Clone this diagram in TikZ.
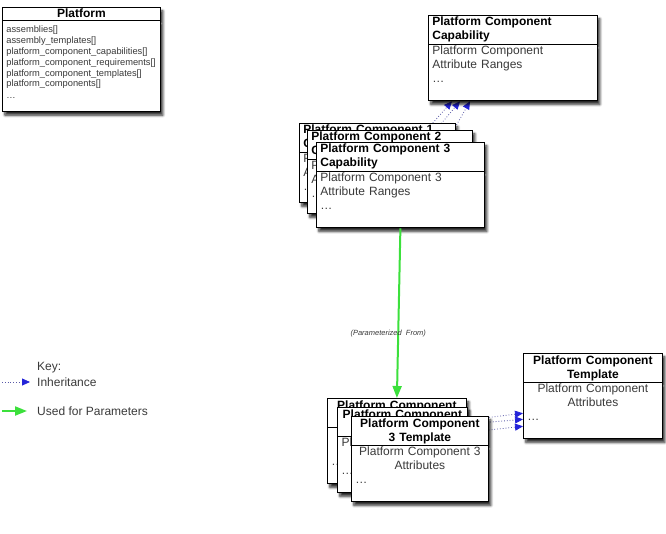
\documentclass[tikz,border=0pt]{standalone}
\usepackage{fontspec}
\setmainfont{Liberation Sans}
\usetikzlibrary{shapes.multipart, arrows.meta, positioning, backgrounds, shadows.blur}
\definecolor{inhblue}{HTML}{2424D8}
\definecolor{inhline}{HTML}{5A5AA8}
\definecolor{paramgreen}{HTML}{3CE03C}
\definecolor{bodygray}{HTML}{3A3A3A}

\newcommand{\pad}[1]{\rule[-#1]{0pt}{#1}}

\begin{document}
\begin{tikzpicture}[
    x=1pt, y=-1pt,
    classbox/.style={rectangle split, rectangle split parts=2, draw=black, fill=white, line width=0.8pt, inner xsep=4pt, inner ysep=1.5pt, anchor=north west, font=\fontsize{12}{14}\selectfont, blur shadow={shadow xshift=2.5pt, shadow yshift=-3.5pt, shadow blur steps=8, shadow blur radius=2.5pt, shadow opacity=85}},
    inherit/.style={-{Triangle[length=8pt, width=7pt, color=inhblue]}, dotted, draw=inhline, thick},
    param/.style={-{Triangle[length=12pt, width=9pt]}, draw=paramgreen, line width=2pt},
    keytext/.style={anchor=west, inner sep=0pt, font=\fontsize{12}{14}\selectfont, text=bodygray}
]
\useasboundingbox (0,0) rectangle (666,533);

% platform class
\node[classbox, text width=150pt] (platform) at (2,7) {\centering\textbf{Platform}\par\nodepart{two}\fontsize{9.3}{10.9}\selectfont\raggedright\color{bodygray}\rule{0pt}{10.5pt}assemblies[]\\assembly\_templates[]\\platform\_component\_capabilities[]\\platform\_component\_requirements[]\\platform\_component\_templates[]\\platform\_components[]\\[1pt]\ldots\pad{11pt}\par};

% capabilities
\node[classbox, text width=161pt] (capbase) at (428,15) {\raggedright\textbf{Platform Component\\Capability}\par\nodepart{two}\raggedright\color{bodygray}Platform Component\\Attribute Ranges\\\ldots\pad{16pt}\par};
\node[classbox, text width=148pt] (cap1) at (299,123) {\raggedright\textbf{Platform Component 1\\Capability}\par\nodepart{two}\raggedright\color{bodygray}Platform Component 1\\Attribute Ranges\\\ldots\pad{10pt}\par};
\node[classbox, text width=157pt] (cap2) at (307,130) {\raggedright\textbf{Platform Component 2\\Capability}\par\nodepart{two}\raggedright\color{bodygray}Platform Component 2\\Attribute Ranges\\\ldots\pad{14pt}\par};
\node[classbox, text width=160pt] (cap3) at (316,142) {\raggedright\textbf{Platform Component 3\\Capability}\par\nodepart{two}\raggedright\color{bodygray}Platform Component 3\\Attribute Ranges\\\ldots\pad{16pt}\par};

% templates
\node[classbox, text width=131pt] (tmplbase) at (523,353) {\centering\textbf{Platform Component\\Template}\par\nodepart{two}\color{bodygray}{\centering Platform Component\\Attributes\par}\raggedright\ldots\pad{16pt}\par};
\node[classbox, text width=131pt] (tmpl1) at (327,398) {\centering\textbf{Platform Component\\1 Template}\par\nodepart{two}\color{bodygray}{\centering Platform Component 1\\Attributes\par}\raggedright\ldots\pad{16pt}\par};
\node[classbox, text width=122pt] (tmpl2) at (337,407) {\centering\textbf{Platform Component\\2 Template}\par\nodepart{two}\color{bodygray}{\centering Platform Component 2\\Attributes\par}\raggedright\ldots\pad{16pt}\par};
\node[classbox, text width=129pt] (tmpl3) at (351,416) {\centering\textbf{Platform Component\\3 Template}\par\nodepart{two}\color{bodygray}{\centering Platform Component 3\\Attributes\par}\raggedright\ldots\pad{16pt}\par};

% inheritance, behind the boxes
\begin{scope}[on background layer]
\draw[inherit] ([xshift=-23pt]cap1.north east) -- ([xshift=24pt]capbase.south west);
\draw[inherit] ([xshift=-37pt]cap2.north east) -- ([xshift=32pt]capbase.south west);
\draw[inherit] ([xshift=-38pt]cap3.north east) -- ([xshift=42pt]capbase.south west);
\draw[inherit] ([yshift=-22pt]tmpl1.north east) -- ([yshift=26pt]tmplbase.south west);
\draw[inherit] ([yshift=-17pt]tmpl2.north east) -- ([yshift=20pt]tmplbase.south west);
\draw[inherit] ([yshift=-14pt]tmpl3.north east) -- ([yshift=13pt]tmplbase.south west);
\end{scope}

\draw[param] (cap3.south) -- node[pos=0.62, xshift=-10pt, font=\fontsize{7.5}{9}\selectfont\itshape, text=bodygray] {(Parameterized\ \ From)} (tmpl1.north);

% key
\node[keytext] (keyhead) at (37,368) {Key:};
\node[keytext] (keyinh) at (37,382) {Inheritance};
\node[keytext] (keyparam) at (37,411) {Used for Parameters};
\coordinate (inhstart) at (2,382);
\coordinate (paramstart) at (2,411);
\draw[inherit] (inhstart) -- ([xshift=-7pt]keyinh.west);
\draw[param] (paramstart) -- ([xshift=-10pt]keyparam.west);
\end{tikzpicture}
\end{document}
